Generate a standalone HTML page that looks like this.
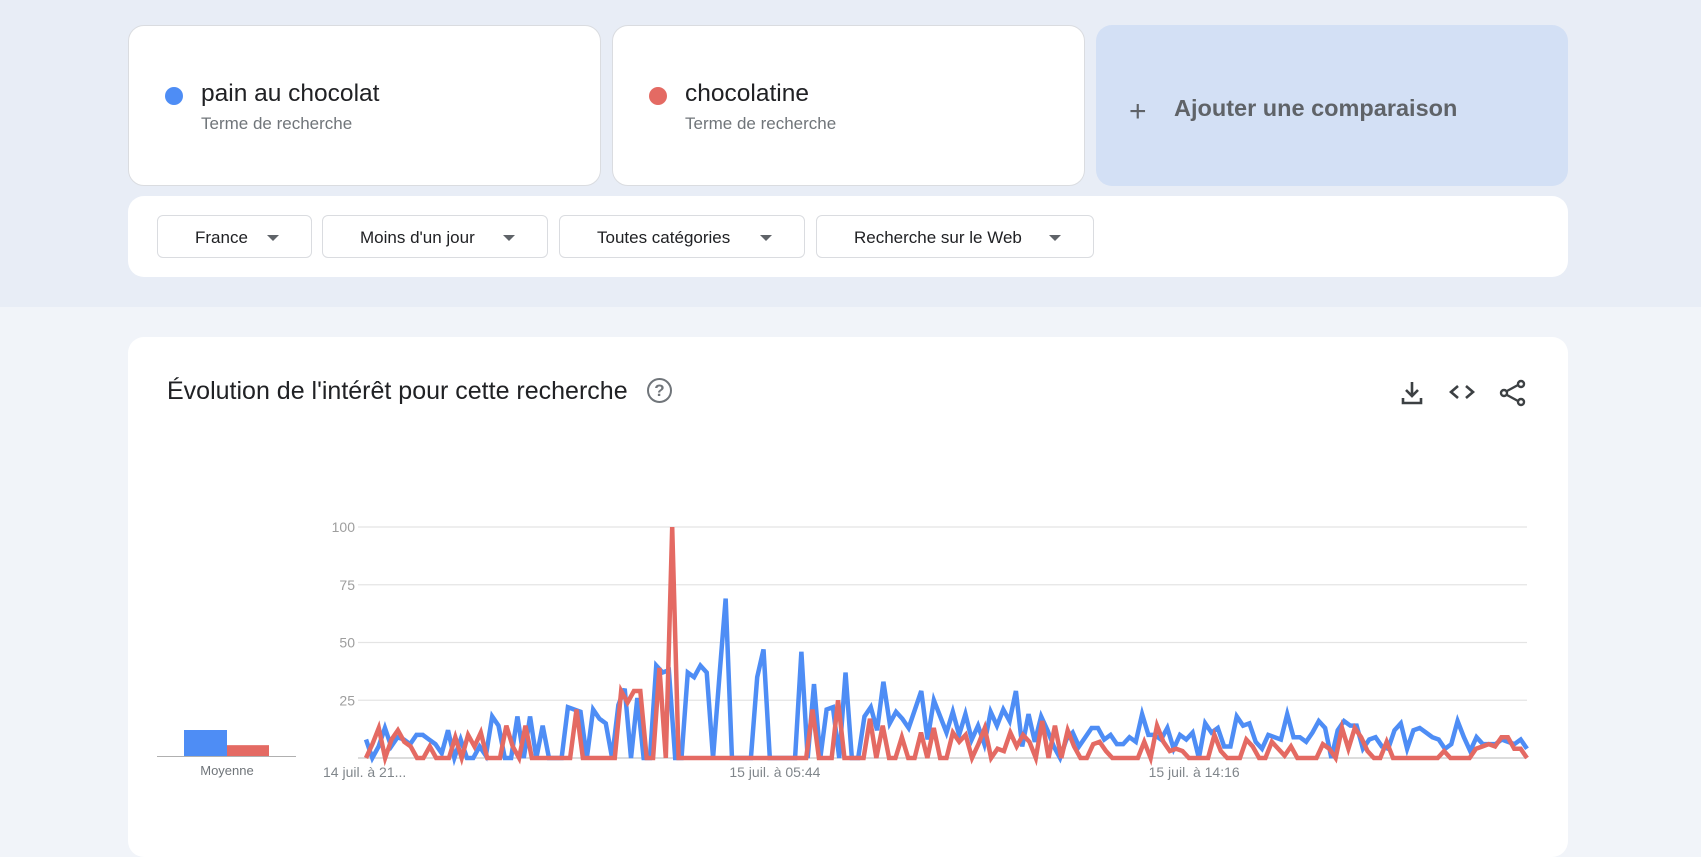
<!DOCTYPE html>
<html><head><meta charset="utf-8"><style>
body{margin:0;width:1701px;height:813px;overflow:hidden;background:#f1f4f9;font-family:"Liberation Sans",sans-serif;position:relative}
.top{position:absolute;left:0;top:0;width:1701px;height:307px;background:#e8edf6}
.card{position:absolute;background:#fff;border:1px solid #dadce0;border-radius:16px;box-sizing:border-box}
.dot{position:absolute;left:36px;top:61px;width:18px;height:18px;border-radius:50%}
.term{position:absolute;left:72px;top:54px;font-size:24.5px;color:#202124}
.sub{position:absolute;left:72px;top:88px;font-size:17px;color:#70757a}
.chip{position:absolute;top:215px;height:43px;border:1px solid #dadce0;border-radius:6px;box-sizing:border-box;font-size:17px;color:#202124;line-height:43px;padding-left:37px;background:#fff}
.chip:after{content:"";position:absolute;right:32px;top:19px;border-left:6px solid transparent;border-right:6px solid transparent;border-top:6px solid #5f6368}
</style></head><body>
<div class="top"></div>
<div class="card" style="left:128px;top:25px;width:473px;height:161px">
<div class="dot" style="background:#4e8df5"></div>
<div class="term">pain au chocolat</div>
<div class="sub">Terme de recherche</div></div>
<div class="card" style="left:612px;top:25px;width:473px;height:161px">
<div class="dot" style="background:#e46a63"></div>
<div class="term">chocolatine</div>
<div class="sub">Terme de recherche</div></div>
<div class="card" style="left:1096px;top:25px;width:472px;height:161px;background:#d3e0f5;border:none">
<div style="position:absolute;left:33px;top:72px;font-size:30px;color:#5f6368;line-height:30px">+</div>
<div style="position:absolute;left:78px;top:70px;font-size:23.5px;color:#5f6368;font-weight:bold">Ajouter une comparaison</div></div>
<div class="card" style="left:128px;top:196px;width:1440px;height:81px;border:none"></div>
<div class="chip" style="left:157px;width:155px">France</div>
<div class="chip" style="left:322px;width:226px">Moins d'un jour</div>
<div class="chip" style="left:559px;width:246px">Toutes catégories</div>
<div class="chip" style="left:816px;width:278px">Recherche sur le Web</div>
<div class="card" style="left:128px;top:337px;width:1440px;height:520px;border:none"></div>
<div style="position:absolute;left:167px;top:377px;font-size:25px;color:#202124">Évolution de l'intérêt pour cette recherche</div>
<div style="position:absolute;left:647px;top:378px;width:21px;height:21px;border:2.5px solid #70757a;border-radius:50%;font-size:17px;line-height:21px;text-align:center;color:#70757a;font-weight:bold">?</div>
<svg style="position:absolute;left:1398px;top:379px" width="130" height="28">
<g stroke="#3c4043" stroke-width="2.6" fill="none"><path d="M14 3v14M8 11l6 6 6-6M5 19v5h18v-5"/></g>
<g stroke="#3c4043" stroke-width="2.6" fill="none"><path d="M60 7l-7 6 7 6M68 7l7 6-7 6"/></g>
<g stroke="#3c4043" stroke-width="2.4" fill="none"><circle cx="123" cy="5" r="3"/><circle cx="106" cy="14" r="3"/><circle cx="123" cy="23" r="3"/><path d="M109 12l11-6M109 16l11 6"/></g>
</svg>
<svg id="chart" style="position:absolute;left:0;top:0" width="1701" height="813"></svg>
<script>
const blue=[8,0,5,13,5,9,8,6,10,10,8,6,2,12,0,8,0,0,5,1,18,14,0,0,18,0,18,0,14,0,0,0,22,21,20,0,21,17,15,0,23,30,0,26,0,0,40,37,38,0,0,37,35,40,37,0,35,69,0,0,0,0,35,47,0,0,0,0,0,46,0,32,0,21,22,0,37,0,0,18,22,12,33,15,20,17,13,21,29,8,25,18,11,20,10,19,8,14,6,20,14,21,16,29,5,19,7,18,12,5,0,8,11,5,9,13,13,8,10,6,6,9,7,19,10,10,8,13,4,10,8,11,0,15,11,13,5,5,18,14,15,7,4,10,9,8,19,9,9,7,11,16,13,0,12,16,14,14,4,8,9,5,4,12,15,4,12,13,11,9,8,4,6,16,9,3,9,6,6,6,8,7,6,8,4];
const red=[0,6,13,0,8,12,7,5,0,0,5,0,0,0,9,0,10,5,11,0,0,0,14,5,0,14,0,0,0,0,0,0,0,21,0,0,0,0,0,0,29,24,29,29,0,0,39,0,100,0,0,0,0,0,0,0,0,0,0,0,0,0,0,0,0,0,0,0,0,0,21,0,0,0,25,0,0,0,0,17,0,14,0,0,9,0,0,11,0,13,0,0,11,7,10,0,6,13,0,4,3,11,5,10,7,0,16,0,14,0,12,5,0,0,6,7,3,0,0,0,0,0,7,0,14,7,3,4,3,0,0,0,0,10,3,0,0,0,8,5,0,0,7,4,1,5,0,0,0,0,6,4,0,13,4,13,9,3,0,0,7,0,0,0,0,0,0,0,0,3,0,0,0,0,4,5,6,5,9,9,4,4,0];
const yTicks=[0,25,50,75,100];
const xLabels=["14 juil. à 21...","15 juil. à 05:44","15 juil. à 14:16"];
const xLabelIdx=[0,63,128];
const avgs=[12,5];
const X0=366,X1=1527,Y0=758,Y100=527;
const NS="http://www.w3.org/2000/svg",svg=document.getElementById('chart');
const yS=v=>Y0-(v/100)*(Y0-Y100);
const xS=(i,n)=>X0+i*(X1-X0)/(n-1);
function mk(t,a){const e=document.createElementNS(NS,t);for(const k in a)e.setAttribute(k,a[k]);svg.appendChild(e);return e;}
yTicks.forEach(v=>{
const l=mk('line',{x1:X0-8,x2:X1,y1:yS(v),y2:yS(v),stroke:v?'#e4e4e4':'#c8c8c8','stroke-width':1.2});


if(v){const t=mk('text',{x:355,y:yS(v)+5,'text-anchor':'end','font-size':14,fill:'#9e9e9e','font-family':'Liberation Sans'});t.textContent=v;

}
});
xLabels.forEach((s,k)=>{
const t=mk('text',{x:xS(xLabelIdx[k],181)-43,y:777,'font-size':14,fill:'#80868b','font-family':'Liberation Sans'});t.textContent=s;


});
[[blue,'#4e8df5','blue-series-line'],[red,'#e46a63','red-series-line']].forEach(([d,c,n])=>{
const p=mk('polyline',{points:d.map((v,i)=>xS(i,d.length)+','+yS(v)).join(' '),fill:'none',stroke:c,'stroke-width':4.5,'stroke-linejoin':'miter'});


});
const aS=v=>756-v*(26/12);
const b1=mk('rect',{x:184,y:aS(avgs[0]),width:43,height:756-aS(avgs[0]),fill:'#4e8df5'});


const b2=mk('rect',{x:227,y:aS(avgs[1]),width:42,height:756-aS(avgs[1]),fill:'#e46a63'});


const bl=mk('line',{x1:157,x2:296,y1:756.5,y2:756.5,stroke:'#b0b0b0','stroke-width':1});


const mt=mk('text',{x:227,y:775,'text-anchor':'middle','font-size':13,fill:'#70757a','font-family':'Liberation Sans'});mt.textContent='Moyenne';


</script>
</body></html>
